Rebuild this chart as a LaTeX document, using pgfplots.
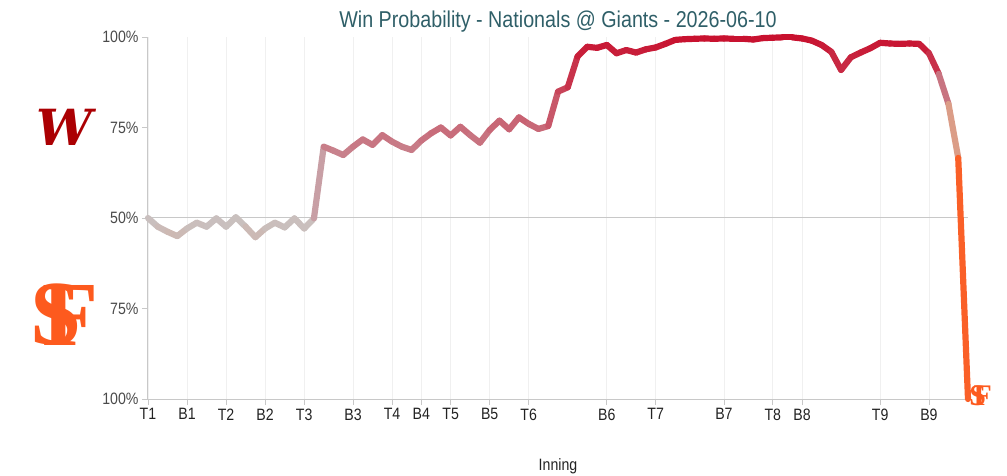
\documentclass[border=0pt]{standalone}
\usepackage{fontspec}
\setmainfont{Liberation Sans}[FakeStretch=0.86]
\newfontfamily\logofont{DejaVu Serif}
\newfontfamily\sffont{Liberation Serif}
\usepackage{pgfplots}
\pgfplotsset{compat=1.18}
\definecolor{titlecol}{HTML}{2F5F68}
\definecolor{axiscol}{HTML}{C8C8C8}
\definecolor{gridcol}{HTML}{F0F0F0}
\definecolor{ylab}{HTML}{4A4A4A}
\definecolor{xlab}{HTML}{222222}
\definecolor{natred}{HTML}{AB0003}
\definecolor{sforange}{HTML}{FD5A1E}
\pgfplotstableread{
x y m
0 50.0 50.0
1 47.6 47.6
2 46.2 46.2
3 45.0 45.0
4 47.1 47.1
5 48.7 48.7
6 47.6 47.6
7 49.9 49.9
8 47.6 47.6
9 50.2 50.2
10 47.6 47.6
11 44.7 44.7
12 47.1 47.1
13 48.7 48.7
14 47.4 47.4
15 49.9 49.9
16 47.1 47.1
17 49.9 49.9
18 69.7 69.7
19 68.6 68.6
20 67.4 67.4
21 69.7 69.7
22 71.7 71.7
23 70.2 70.2
24 72.9 72.9
25 71.1 71.1
26 69.7 69.7
27 68.8 68.8
28 71.4 71.4
29 73.4 73.4
30 75.0 75.0
31 72.8 72.8
32 75.2 75.2
33 72.9 72.9
34 70.8 70.8
35 74.3 74.3
36 76.9 76.9
37 74.5 74.5
38 77.8 77.8
39 76.0 76.0
40 74.6 74.6
41 75.4 75.4
42 84.9 84.9
43 86.1 86.1
44 94.6 94.6
45 97.3 97.3
46 97.0 97.0
47 97.8 97.8
48 95.5 95.5
49 96.4 96.4
50 95.7 95.7
51 96.6 96.6
52 97.1 97.1
53 98.1 98.1
54 99.2 99.2
55 99.4 99.4
56 99.5 99.5
57 99.6 99.6
58 99.5 99.5
59 99.6 99.6
60 99.5 99.5
61 99.5 99.5
62 99.3 99.3
63 99.7 99.7
64 99.8 99.8
65 99.9 99.9
66 99.9 99.9
67 99.6 99.6
68 99.0 99.0
69 97.8 97.8
70 95.9 95.9
71 90.9 90.9
72 94.4 94.4
73 95.7 95.7
74 96.9 96.9
75 98.4 98.4
76 98.2 98.2
77 98.1 98.1
78 98.2 98.2
79 98.1 98.1
80 95.5 95.5
81 89.8 86.0
82 81.5 58.0
83 66.6 6.0
84 0.0 0.0
}\wpdata
\begin{document}
\begin{tikzpicture}
\begin{axis}[
  at={(0,0)}, anchor=south west,
  scale only axis, width=820bp, height=362bp,
  xmin=0, xmax=84, ymin=0, ymax=100,
  axis lines=left,
  axis line style={-, draw=axiscol, line width=1bp},
  clip=false,
  xtick={0,4,8,12,16,21,25,28,31,35,39,47,52,59,64,67,75,80},
  xticklabels={T1,B1,T2,B2,T3,B3,T4,B4,T5,B5,T6,B6,T7,B7,T8,B8,T9,B9},
  ytick={0,25,50,75,100},
  yticklabels={100\%,75\%,50\%,75\%,100\%},
  tick align=outside,
  major tick length=6bp,
  tick style={draw=axiscol, line width=0.8bp},
  xmajorgrids,
  major grid style={draw=gridcol, line width=0.8bp},
  /pgf/number format/assume math mode=true,
  ticklabel style={font=\fontsize{16.5}{16.5}\selectfont},
  yticklabel style={text=ylab},
  xticklabel style={text=xlab},
  title={Win Probability - Nationals @ Giants - 2026-06-10},
  title style={font=\fontsize{23}{23}\selectfont, text=titlecol, at={(0.5,1)}, anchor=base, yshift=4bp},
  xlabel={Inning},
  xlabel style={font=\fontsize{16.5}{16.5}\selectfont, text=xlab, at={(0.5,0)}, anchor=base, yshift=-71bp},
  colormap={wp}{rgb255=(253,90,30) rgb255=(200,194,194) rgb255=(200,16,46)},
  point meta min=0, point meta max=100,
]
\addplot[draw=axiscol, line width=1bp] coordinates {(0,50) (84,50)};
\addplot[mesh, line width=6.2bp, line cap=round, line join=round, point meta=explicit]
  table[x=x, y=y, meta=m] {\wpdata};
\node[text=natred, font=\fontsize{50}{50}\selectfont\logofont\bfseries\itshape] at (axis cs:-8.6,75) {W};
\node[text=sforange, font=\fontsize{92}{92}\selectfont\sffont\bfseries, inner sep=0pt] at (axis cs:-9.4,23.2) {S};
\node[text=sforange, font=\fontsize{92}{92}\selectfont\sffont\bfseries, inner sep=0pt] at (axis cs:-7.9,23.2) {F};
\node[text=sforange, font=\fontsize{30}{30}\selectfont\sffont\bfseries, inner sep=0pt] at (axis cs:85.0,1.0) {S};
\node[text=sforange, font=\fontsize{30}{30}\selectfont\sffont\bfseries, inner sep=0pt] at (axis cs:85.5,1.0) {F};
\end{axis}
\pgfresetboundingbox
\path[use as bounding box] (-148bp,-77bp) rectangle (859bp,399bp);
\end{tikzpicture}
\end{document}
